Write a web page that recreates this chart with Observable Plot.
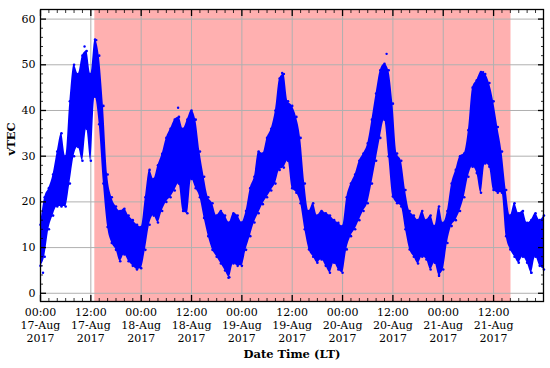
<!DOCTYPE html>
<html>
<head>
<meta charset="utf-8">
<script src="https://cdn.jsdelivr.net/npm/d3@7"></script>
<script src="https://cdn.jsdelivr.net/npm/@observablehq/plot@0.6"></script>
<style>
  html, body { margin: 0; padding: 0; background: #fff; }
  #chart { width: 550px; height: 368px; }
</style>
</head>
<body>
<div id="chart"></div>
<script>
// Hours since 17-Aug-2017 00:00 LT
const hours = d3.range(0, 121);
// Lower and upper envelope of the vTEC scatter at each hour
const vtecLow = [6,8,14,17,19,19,19,24,30,32,29,36,29,43,37,24,14.5,11,9.5,7,8.5,7,6,5.2,5.5,
  9.5,15,17,15.5,18,20,21,22.5,24,18,17.5,25,23,21,16.5,12.5,9.5,8,6.5,5,3.5,6.5,6,6,
  9.5,12.5,15.5,17.5,19.5,21,22.5,24,27,27.5,29,23,22,19.7,14,9.6,8,6.7,7.4,6,4.5,6.7,5.2,4.5,
  9.6,12.5,14,16,18,19.7,24,29,34,38,30,21.2,19.7,19,14,9.6,8,6.5,8,7.4,5.2,6.7,4,5.2,
  11,14.7,16,18,21,25.5,27.7,26.3,22,28.4,27.7,22.6,22,22,12.5,9.6,8,6.7,8,6.7,4.5,8,6,5.2];
const vtecHigh = [15,21,23,26,31,35,30,42,50,48,52,53,48,55.5,52,41,26,21,19,18,18.5,17,16,15,14.5,
  21,27,25,28,30.5,34,36,38,38.6,36,38,40,38,31,25.5,21,19.7,17,18,17,15.5,17.5,17,15.5,
  18,23,25.5,31,30.6,34,36,40,47,48,42,41,38.6,34,24,18,19.7,17,18,17.5,17,16,15.4,14.7,
  21,24,26,29,30.6,32.8,38,43.7,48.8,50.2,48.8,41.5,30.6,29,22.6,18,17,16,18,16,17,14.7,19,15.4,
  18,24,27,30,30.6,35.7,45,46.6,48.4,48,46,42,36.4,31,22.6,17,19.7,17.5,18,15.4,16,17.5,16,17];
// Isolated points outside the envelope: [hour, vTEC]
const outliers = [[0.6,4.5],[10.5,54],[13.3,55.4],[32.8,40.6],[44.8,3.4],[57.6,48.2],[82.5,52.4],[95,3.8],[105.5,48.4],[117,4.5]];
// Shaded interval (hours)
const shadeStartH = 12.95;
const shadeEndH = 112.15;
// Axis ticks
const majorXH = [0,12,24,36,48,60,72,84,96,108];
const majorY = [0,10,20,30,40,50,60];

const t0 = Date.UTC(2017, 7, 17);
const toDate = h => new Date(t0 + h * 3600e3);

const data = hours.map((h, i) => ({t: toDate(h), lo: vtecLow[i], hi: vtecHigh[i]}));
const edges = data.flatMap(d => [{t: d.t, v: d.lo}, {t: d.t, v: d.hi}]);
const outl = outliers.map(([h, v]) => ({t: toDate(h), v}));
const majorX = majorXH.map(toDate);
const minorX = d3.range(0, 120, 2).filter(h => h % 12 !== 0).map(toDate);
const minorY = d3.range(0, 62, 2).filter(v => v % 10 !== 0);

const fmtTime = d3.utcFormat("%H:%M");
const fmtDay = d3.utcFormat("%d-%b");
const fmtYear = d3.utcFormat("%Y");
const blank = () => "";

const chart = Plot.plot({
  width: 550,
  height: 368,
  marginLeft: 40,
  marginRight: 7,
  marginTop: 9,
  marginBottom: 67,
  style: {fontFamily: "'DejaVu Serif', serif", fontSize: "11px", background: "#fff", color: "#000"},
  x: {type: "utc", domain: [toDate(0), toDate(119.9)]},
  y: {domain: [-1.8, 62.1]},
  marks: [
    Plot.rect([{x1: toDate(shadeStartH), x2: toDate(shadeEndH)}], {x1: "x1", x2: "x2", fill: "#ffb0b0"}),
    Plot.gridX(majorX, {stroke: "#b0b0b0", strokeOpacity: 1, strokeWidth: 1}),
    Plot.gridY(majorY, {stroke: "#b0b0b0", strokeOpacity: 1, strokeWidth: 1}),
    Plot.areaY(data, {x: "t", y1: "lo", y2: "hi", fill: "#0000ff", curve: "monotone-x"}),
    Plot.dot(edges, {x: "t", y: "v", r: 1.3, fill: "#0000ff", stroke: null}),
    Plot.dot(outl, {x: "t", y: "v", r: 1.2, fill: "#0000ff", stroke: null}),
    // inward ticks
    Plot.axisX(majorX, {anchor: "bottom", tickSize: 6, dy: -6, strokeWidth: 1.3, tickFormat: blank, label: null}),
    Plot.axisX(minorX, {anchor: "bottom", tickSize: 3, dy: -3, strokeWidth: 0.8, tickFormat: blank, label: null}),
    Plot.axisX(majorX, {anchor: "top", tickSize: 6, dy: 6, strokeWidth: 1.3, tickFormat: blank, label: null}),
    Plot.axisX(minorX, {anchor: "top", tickSize: 3, dy: 3, strokeWidth: 0.8, tickFormat: blank, label: null}),
    Plot.axisY(majorY, {anchor: "left", tickSize: 6, dx: 6, strokeWidth: 1.3, tickFormat: blank, label: null}),
    Plot.axisY(minorY, {anchor: "left", tickSize: 3, dx: 3, strokeWidth: 0.8, tickFormat: blank, label: null}),
    Plot.axisY(majorY, {anchor: "right", tickSize: 6, dx: -6, strokeWidth: 1.3, tickFormat: blank, label: null}),
    Plot.axisY(minorY, {anchor: "right", tickSize: 3, dx: -3, strokeWidth: 0.8, tickFormat: blank, label: null}),
    // tick labels
    Plot.axisX(majorX, {anchor: "bottom", tickSize: 0, tickPadding: 6, lineHeight: 1.15, fontSize: 11,
      tickFormat: d => `${fmtTime(d)}\n${fmtDay(d)}\n${fmtYear(d)}`, label: null}),
    Plot.axisY(majorY, {anchor: "left", tickSize: 0, tickPadding: 5, fontSize: 11, label: null}),
    Plot.frame({stroke: "#000", strokeWidth: 1.3}),
    Plot.text(["vTEC"], {frameAnchor: "left", rotate: -90, dx: -29, fontWeight: "bold", fontSize: 11.5}),
    Plot.text(["Date Time (LT)"], {frameAnchor: "bottom", dy: 56, fontWeight: "bold", fontSize: 11.5})
  ]
});
document.getElementById("chart").appendChild(chart);
</script>
</body>
</html>
